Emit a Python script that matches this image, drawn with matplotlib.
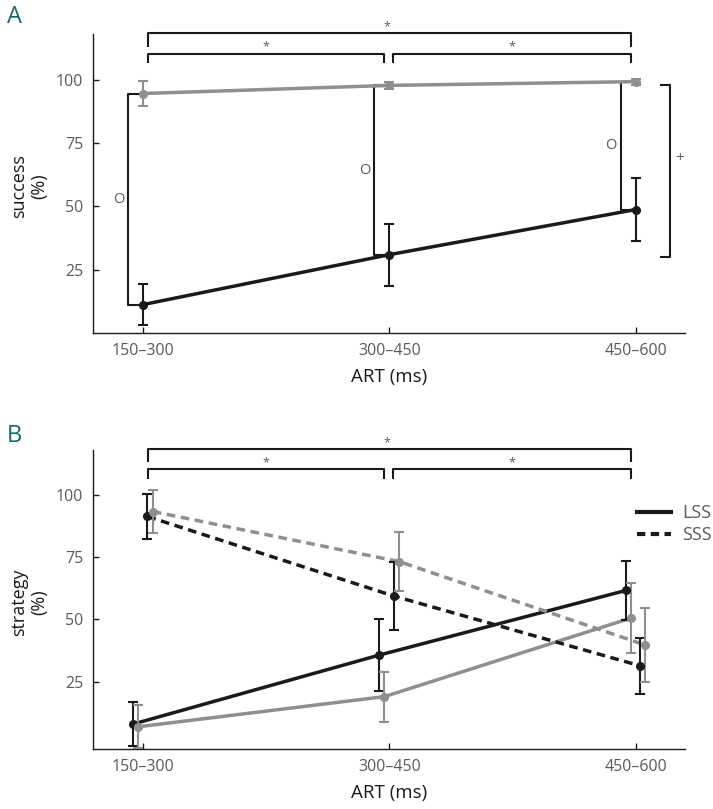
import matplotlib
matplotlib.use('Agg')
import matplotlib.pyplot as plt
from matplotlib.lines import Line2D

plt.rcParams['font.family'] = ['Open Sans', 'DejaVu Sans']

# カテゴリ
categories = ['150\u2013300', '300\u2013450', '450\u2013600']

# A: success (%)
success_black = [11.2, 30.9, 48.7]
success_black_err = [8.0, 12.3, 12.3]
success_gray = [94.5, 97.7, 99.2]
success_gray_err = [4.8, 1.5, 1.2]

# B: strategy (%)
lss_black = [8.0, 35.7, 61.6]
lss_black_err = [9.0, 14.3, 12.0]
lss_gray = [6.9, 19.0, 50.5]
lss_gray_err = [8.7, 10.0, 14.0]
sss_black = [91.3, 59.4, 31.4]
sss_black_err = [8.9, 13.7, 11.2]
sss_gray = [93.3, 73.2, 39.7]
sss_gray_err = [8.7, 11.7, 15.0]

BLACK = '#1a1a1a'
GRAY = '#8f8f8f'
TICKGRAY = '#5a5a5a'
TEAL = '#176b60'

fig = plt.figure(figsize=(7.13, 8.09), dpi=100)
axA = fig.add_axes([0.1304, 0.5884, 0.830, 0.3696])
axB = fig.add_axes([0.1304, 0.0742, 0.830, 0.3696])

x = list(range(len(categories)))


def style_axis(ax, ylabel, ylim):
    ax.set_xlim(-0.203, 2.2)
    ax.set_ylim(*ylim)
    ax.set_xticks(x)
    ax.set_xticklabels(categories)
    ax.set_yticks([25, 50, 75, 100])
    ax.spines['top'].set_visible(False)
    ax.spines['right'].set_visible(False)
    for s in ['left', 'bottom']:
        ax.spines[s].set_color(BLACK)
        ax.spines[s].set_linewidth(1.0)
    ax.tick_params(direction='in', length=4, width=1, colors=BLACK,
                   labelcolor=TICKGRAY, labelsize=11.5, pad=7)
    ax.set_xlabel('ART (ms)', fontsize=13.5, color=BLACK, labelpad=7)
    ax.set_ylabel(ylabel, fontsize=13, color=BLACK,
                  multialignment='center', linespacing=1.15)
    ax.yaxis.set_label_coords(-0.076, 0.49)


def sig_brackets(ax):
    kw = dict(color=BLACK, lw=1.5, clip_on=False, solid_capstyle='butt')
    # 外側 (150-300 vs 450-600)
    ax.plot([0.02, 0.02, 1.98, 1.98], [113.0, 118.3, 118.3, 113.0], **kw)
    # 内側
    ax.plot([0.02, 0.02, 0.977, 0.977], [106.4, 110.2, 110.2, 106.4], **kw)
    ax.plot([1.017, 1.017, 1.98, 1.98], [106.4, 110.2, 110.2, 106.4], **kw)
    tkw = dict(ha='center', va='center', fontsize=9, color=TICKGRAY, clip_on=False)
    ax.text(0.99, 121.0, '*', **tkw)
    ax.text(0.5, 113.0, '*', **tkw)
    ax.text(1.5, 113.0, '*', **tkw)


# ---- A ----
eb = dict(capsize=3.5, elinewidth=1.5, capthick=1.5, lw=2.5, ms=5.5, zorder=3)
axA.errorbar(x, success_gray, yerr=success_gray_err, color=GRAY, marker='o', **eb)
axA.errorbar(x, success_black, yerr=success_black_err, color=BLACK, marker='o', **eb)

# gray vs black の差 (O)
for i in x:
    xl = i - 0.06
    axA.plot([i - 0.005, xl, xl, i - 0.005],
             [success_gray[i], success_gray[i], success_black[i], success_black[i]],
             color=BLACK, lw=1.5, zorder=2)
    axA.text(i - 0.1, (success_gray[i] + success_black[i]) / 2, 'O',
             ha='center', va='center', fontsize=10.5, color=TICKGRAY)

# 右側のブラケット (+)
axA.plot([2.104, 2.14, 2.14, 2.104], [97.8, 97.8, 30.1, 30.1],
         color=BLACK, lw=1.5, clip_on=False)
axA.text(2.18, 69, '+', ha='center', va='center', fontsize=11, color=TICKGRAY)

sig_brackets(axA)
style_axis(axA, 'success\n(%)', (0, 118))

# ---- B ----
offs = [-0.04, -0.02, 0.018, 0.04]
series = [
    (lss_black, lss_black_err, BLACK, '-', offs[0]),
    (lss_gray, lss_gray_err, GRAY, '-', offs[1]),
    (sss_black, sss_black_err, BLACK, (0, (2.5, 1.6)), offs[2]),
    (sss_gray, sss_gray_err, GRAY, (0, (2.5, 1.6)), offs[3]),
]
for vals, err, col, ls, off in series:
    xs = [i + off for i in x]
    axB.errorbar(xs, vals, yerr=err, color=col, marker='o', ms=5.5,
                 capsize=3.5, elinewidth=1.5, capthick=1.5, ls='none', zorder=3)
    axB.plot(xs, vals, color=col, ls=ls, lw=2.5, zorder=2)

sig_brackets(axB)
style_axis(axB, 'strategy\n(%)', (-2, 118))

handles = [Line2D([], [], color=BLACK, lw=3, ls='-'),
           Line2D([], [], color=BLACK, lw=3, ls=(0, (2.0, 1.3)))]
axB.legend(handles, ['LSS', 'SSS'], loc='upper left', bbox_to_anchor=(0.919, 0.818),
           frameon=False, fontsize=13, handlelength=1.9, handletextpad=0.6,
           labelspacing=0.22, labelcolor=TICKGRAY, borderaxespad=0, borderpad=0)

fig.text(0.01, 0.979, 'A', fontsize=17, color=TEAL, va='center', ha='left')
fig.text(0.01, 0.461, 'B', fontsize=17, color=TEAL, va='center', ha='left')

fig.savefig('out.png', dpi=100)
plt.close(fig)
